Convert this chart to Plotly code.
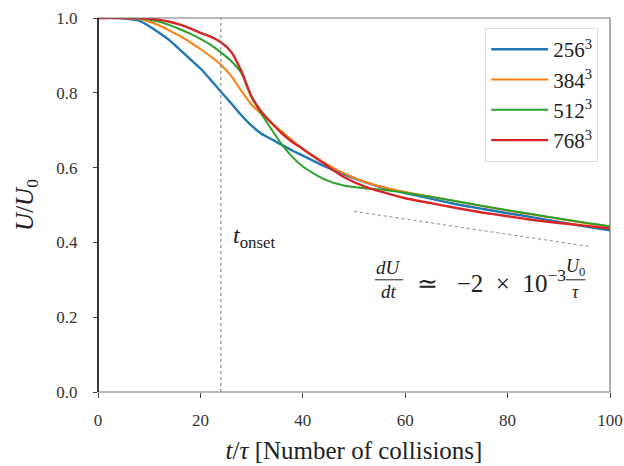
import plotly.graph_objects as go

# ---- data ----
t = [0, 4, 8, 10, 12, 14, 16, 18, 20, 22, 24, 26, 28, 30, 32, 34, 36, 38, 40,
     44, 48, 52, 56, 60, 65, 70, 75, 80, 85, 90, 95, 100]
u256 = [1.0, 1.0, 0.993, 0.978, 0.96, 0.94, 0.915, 0.89, 0.865, 0.835, 0.803, 0.772,
        0.74, 0.712, 0.69, 0.675, 0.66, 0.645, 0.632, 0.605, 0.582, 0.562, 0.545,
        0.532, 0.517, 0.502, 0.49, 0.478, 0.467, 0.455, 0.443, 0.432]
u384 = [1.0, 1.0, 0.998, 0.99, 0.98, 0.966, 0.952, 0.935, 0.917, 0.897, 0.875, 0.845,
        0.805, 0.768, 0.742, 0.718, 0.695, 0.672, 0.65, 0.615, 0.585, 0.562, 0.547,
        0.535, 0.522, 0.51, 0.497, 0.485, 0.474, 0.463, 0.452, 0.442]
u512 = [1.0, 1.0, 1.0, 0.995, 0.99, 0.981, 0.97, 0.958, 0.944, 0.928, 0.908, 0.885,
        0.853, 0.787, 0.742, 0.7, 0.66, 0.628, 0.603, 0.57, 0.552, 0.545, 0.54,
        0.533, 0.522, 0.51, 0.498, 0.486, 0.475, 0.464, 0.453, 0.443]
u768 = [1.0, 1.0, 1.0, 0.998, 0.995, 0.99, 0.982, 0.972, 0.96, 0.95, 0.935, 0.91,
        0.858, 0.79, 0.748, 0.718, 0.69, 0.668, 0.65, 0.612, 0.575, 0.55, 0.533,
        0.518, 0.505, 0.492, 0.48, 0.47, 0.46, 0.452, 0.445, 0.437]
labels = ["256<sup>3</sup>", "384<sup>3</sup>", "512<sup>3</sup>", "768<sup>3</sup>"]
colors = ["#1f77b4", "#ff7f0e", "#2ca02c", "#d62728"]
widths = [2.4, 2.0, 2.0, 2.4]
t_onset = 24
slope_x = [50, 96]
slope_y = [0.483, 0.389]

FONT = "Liberation Serif"
TXT = "#222"

fig = go.Figure()
for i, (y, name, c, w) in enumerate(zip([u256, u384, u512, u768], labels, colors, widths)):
    fig.add_trace(go.Scatter(x=t, y=y, mode="lines", name=name, legendgroup=f"g{i}",
                             line=dict(color=c, width=w, shape="spline", smoothing=0.6)))

fig.add_trace(go.Scatter(x=slope_x, y=slope_y, mode="lines", showlegend=False,
                         line=dict(color="#888", width=1, dash="dot")))

# vertical onset line
fig.add_shape(type="line", x0=t_onset, x1=t_onset, y0=0, y1=1, xref="x", yref="y",
              line=dict(color="#777", width=1, dash="dot"))

# frame
fig.add_shape(type="rect", xref="paper", yref="paper", x0=0, x1=1, y0=0, y1=1,
              line=dict(color="#777", width=1.2), layer="above")
fig.add_shape(type="line", xref="paper", yref="paper", x0=0, x1=0, y0=0, y1=1,
              line=dict(color="#111", width=1.5), layer="above")

ann = []
ann.append(dict(x=26.0, y=0.415, text="<i>t</i><sub>onset</sub>", xanchor="left",
                yanchor="middle", showarrow=False, font=dict(family=FONT, size=24, color=TXT)))
# formula dU/dt ≃ -2 × 10^-3 U0/τ
ann.append(dict(x=56.8, y=0.334, text="<i>dU</i>", showarrow=False,
                font=dict(family=FONT, size=19, color=TXT)))
ann.append(dict(x=56.8, y=0.268, text="<i>dt</i>", showarrow=False,
                font=dict(family=FONT, size=19, color=TXT)))
ann.append(dict(x=76.9, y=0.297,
                text="≃&nbsp;&nbsp;&nbsp;−2&nbsp;&nbsp;×&nbsp;&nbsp;10<sup>−3</sup>",
                showarrow=False, font=dict(family=FONT, size=25, color=TXT)))
ann.append(dict(x=93.3, y=0.334, text="<i>U</i><sub>0</sub>", showarrow=False,
                font=dict(family=FONT, size=18, color=TXT)))
ann.append(dict(x=93.3, y=0.268, text="<i>τ</i>", showarrow=False,
                font=dict(family=FONT, size=18, color=TXT)))
fig.add_shape(type="line", x0=54.1, x1=59.6, y0=0.300, y1=0.300, xref="x", yref="y",
              line=dict(color=TXT, width=1))
fig.add_shape(type="line", x0=91.4, x1=95.2, y0=0.300, y1=0.300, xref="x", yref="y",
              line=dict(color=TXT, width=1))

# y-axis title as annotation (placed left)
ann.append(dict(x=-0.175, y=0.5, xref="paper", yref="paper", textangle=-90,
                text="<i>U</i>/<i>U</i><sub>0</sub>", showarrow=False,
                font=dict(family=FONT, size=25, color=TXT)))

fig.update_layout(
    width=624, height=466,
    margin=dict(l=98, r=14, t=18, b=74, autoexpand=False),
    paper_bgcolor="white", plot_bgcolor="white",
    font=dict(family=FONT, size=17, color=TXT),
    annotations=ann,
    legend=dict(x=0.977, y=0.973, xanchor="right", yanchor="top",
                bordercolor="#ddd", borderwidth=1, bgcolor="rgba(255,255,255,0.9)",
                font=dict(family=FONT, size=21, color=TXT), itemwidth=57,
                tracegroupgap=0),
    xaxis=dict(range=[0, 100], tickvals=[0, 20, 40, 60, 80, 100], showgrid=False,
               zeroline=False, ticks="outside", ticklen=5, tickcolor="#444",
               automargin=False, ticklabelstandoff=8,
               title=dict(text="<i>t</i>/<i>τ</i> [Number of collisions]",
                          font=dict(family=FONT, size=25), standoff=12),
               tickfont=dict(family=FONT, size=17, color="#333")),
    yaxis=dict(range=[0, 1.0], tickvals=[0, 0.2, 0.4, 0.6, 0.8, 1.0],
               tickformat=".1f", showgrid=False, zeroline=False,
               ticks="outside", ticklen=4, tickcolor="#444", automargin=False,
               ticklabelstandoff=12,
               tickfont=dict(family=FONT, size=17, color="#333")),
)

fig.write_html("out.html")
